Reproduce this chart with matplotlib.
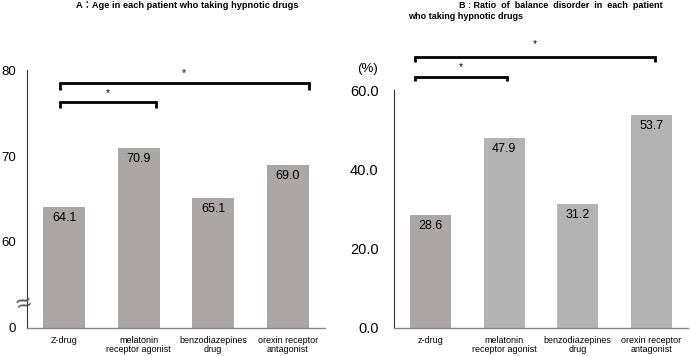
import matplotlib.pyplot as plt

plt.rcParams["font.family"] = ["Liberation Sans", "Noto Sans CJK JP", "DejaVu Sans"]

# panel A: age (axis broken below 60, bottom drawn as 50 labelled "0")
cats_a = ["Z-drug", "melatonin\nreceptor agonist", "benzodiazepines\ndrug", "orexin receptor\nantagonist"]
age = [64.1, 70.9, 65.1, 69.0]
ticks_a = [50, 60, 70, 80]
ticklabels_a = ["0", "60", "70", "80"]

# panel B: balance disorder ratio (%)
cats_b = ["z-drug", "melatonin\nreceptor agonist", "benzodiazepines\ndrug", "orexin receptor\nantagonist"]
ratio = [28.6, 47.9, 31.2, 53.7]
ticks_b = [0, 20, 40, 60]

# significance brackets: (x start, x end, bracket top, leg bottom, star y)
sig_a = [(-0.06, 1.23, 76.3, 75.6, 77.3), (-0.06, 3.28, 78.5, 77.7, 79.7)]
sig_b = [(-0.21, 1.04, 63.3, 62.2, 65.8), (-0.21, 3.05, 68.3, 67.1, 71.6)]

fig = plt.figure(figsize=(6.9, 3.56), dpi=100)
ax1 = fig.add_axes([0.039, 0.079, 0.432, 0.724])
ax2 = fig.add_axes([0.571, 0.079, 0.426, 0.668])

warm = "#aba7a6"
light = "#b3b3b3"


def bracket(ax, x0, x1, top, leg, sy):
    ax.plot([x0, x0, x1, x1], [leg, top, top, leg], color="black", lw=2,
            clip_on=False, solid_capstyle="butt", solid_joinstyle="miter")
    ax.text((x0 + x1) / 2, sy, "*", ha="center", va="center", fontsize=7.5, clip_on=False)


# panel A
x = range(len(age))
ax1.bar(x, age, width=0.56, color=warm)
for i, v in enumerate(age):
    ax1.text(i, v - 0.6, f"{v:.1f}", ha="center", va="top", fontsize=9)
ax1.set_xlim(-0.5, 3.5)
ax1.set_ylim(50, 80)
ax1.set_yticks(ticks_a)
ax1.set_yticklabels(ticklabels_a, fontsize=9.5)
ax1.tick_params(axis="y", pad=8)
ax1.set_xticks(list(x))
ax1.set_xticklabels(cats_a, fontsize=6.5, linespacing=1.0)
for sig in sig_a:
    bracket(ax1, *sig)
ax1.text(-0.01, 0.09, "≈", transform=ax1.transAxes, ha="center", va="center",
         fontsize=19, color="#555555", rotation=15)
fig.text(0.271, 0.985, "A：Age in each patient who taking hypnotic drugs",
         ha="center", va="center", fontsize=6.7, fontweight="bold")

# panel B
ax2.bar(x, ratio, width=0.56, color=[warm, light, light, light])
for i, v in enumerate(ratio):
    ax2.text(i, v - 1.3, f"{v:.1f}", ha="center", va="top", fontsize=9)
ax2.set_xlim(-0.5, 3.5)
ax2.set_ylim(0, 60)
ax2.set_yticks(ticks_b)
ax2.set_yticklabels([f"{t:.1f}" for t in ticks_b], fontsize=10.5)
ax2.tick_params(axis="y", pad=11)
ax2.set_xticks(list(x))
ax2.set_xticklabels(cats_b, fontsize=6.5, linespacing=1.0)
for sig in sig_b:
    bracket(ax2, *sig)
ax2.text(-0.09, 1.09, "(%)", transform=ax2.transAxes, ha="center", va="center", fontsize=9.5)
fig.text(0.96, 0.985, "B : Ratio  of  balance  disorder  in  each  patient",
         ha="right", va="center", fontsize=6.5, fontweight="bold")
fig.text(0.591, 0.955, "who taking hypnotic drugs",
         ha="left", va="center", fontsize=6.5, fontweight="bold")

for ax in (ax1, ax2):
    ax.spines["top"].set_visible(False)
    ax.spines["right"].set_visible(False)
    ax.spines["left"].set_color("#333333")
    ax.spines["left"].set_linewidth(0.8)
    ax.spines["bottom"].set_color("#888888")
    ax.spines["bottom"].set_linewidth(1)
    ax.tick_params(length=0)
    ax.tick_params(axis="x", pad=6)

fig.savefig("out.png", dpi=100)
